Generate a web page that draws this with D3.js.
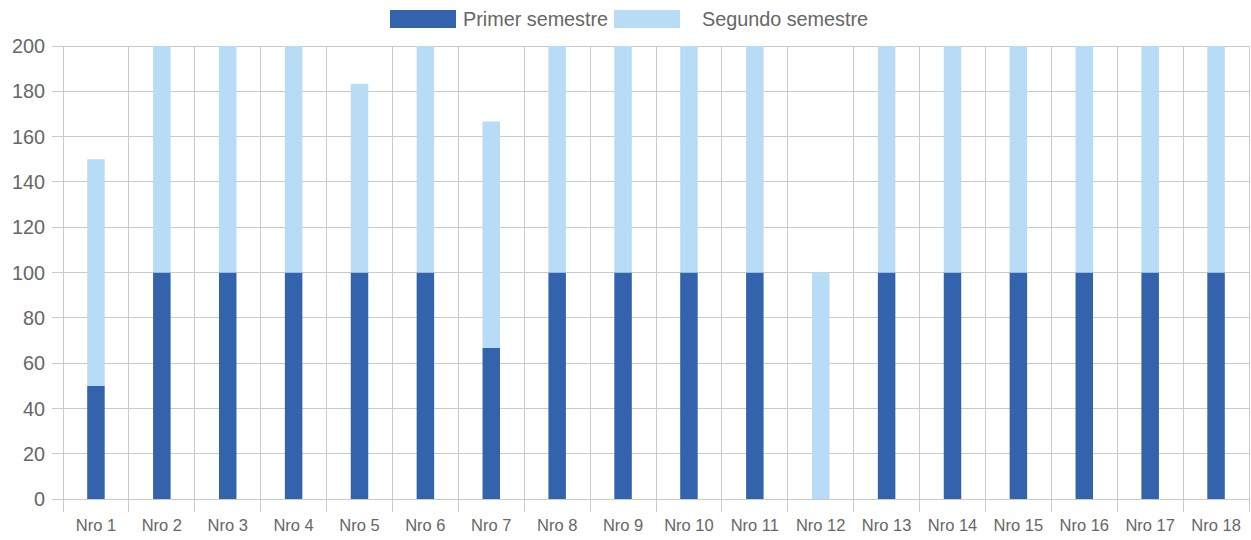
<!DOCTYPE html>
<html><head><meta charset="utf-8">
<script src="https://cdn.jsdelivr.net/npm/d3@7"></script>
<style>body{margin:0;background:#fff;}svg{display:block;font-family:"Liberation Sans",Arial,sans-serif;}</style>
</head><body><svg id="c" width="1251" height="540"></svg>
<script>
const categories = ["Nro 1","Nro 2","Nro 3","Nro 4","Nro 5","Nro 6","Nro 7","Nro 8","Nro 9","Nro 10","Nro 11","Nro 12","Nro 13","Nro 14","Nro 15","Nro 16","Nro 17","Nro 18"];
const primer = [50,100,100,100,100,100,66.67,100,100,100,100,0,100,100,100,100,100,100];
const segundo = [100,100,100,100,83.33,100,100,100,100,100,100,100,100,100,100,100,100,100];
const seriesNames = ["Primer semestre","Segundo semestre"];
const yTicks = [0,20,40,60,80,100,120,140,160,180,200];
const colors = ["#3463ae","#b8dcf5"];

const svg = d3.select("#c");
const m = {l:63, r:1249, t:46, b:499};
const x = d3.scaleBand().domain(categories).range([m.l, m.r]);
const y = d3.scaleLinear().domain([0,200]).range([m.b, m.t]);
const grid = "#cacaca";

// horizontal grid
svg.append("g").selectAll("line").data(yTicks).join("line")
  .attr("x1", m.l-11).attr("x2", m.r).attr("y1", d=>y(d)).attr("y2", d=>y(d))
  .attr("stroke", grid).attr("stroke-width",1).attr("shape-rendering","crispEdges");
// vertical grid at band boundaries
const bounds = categories.map(c=>x(c)).concat([m.r]);
svg.append("g").selectAll("line").data(bounds).join("line")
  .attr("x1", d=>d).attr("x2", d=>d).attr("y1", m.t).attr("y2", m.b+13)
  .attr("stroke", grid).attr("stroke-width",1).attr("shape-rendering","crispEdges");

// y labels
svg.append("g").selectAll("text").data(yTicks).join("text")
  .attr("x", 45).attr("y", d=>y(d)).attr("dy","0.36em").attr("text-anchor","end")
  .attr("fill","#666").attr("font-size",19.8).text(d=>d);
// x labels
svg.append("g").selectAll("text").data(categories).join("text")
  .attr("x", d=>x(d)+x.bandwidth()/2).attr("y", 525).attr("dy","0.36em").attr("text-anchor","middle")
  .attr("fill","#666").attr("font-size",16.5).text(d=>d);

const bw = 17.5;
const stacked = d3.stack().keys([0,1]).value((d,k)=>d.v[k])(categories.map((c,i)=>({c, v:[primer[i], segundo[i]]})));
stacked.forEach((layer, k) => {
  svg.append("g").selectAll("rect").data(layer).join("rect")
    .attr("x", d=>x(d.data.c)+x.bandwidth()/2-bw/2).attr("width", bw)
    .attr("y", d=>y(d[1])).attr("height", d=>y(d[0])-y(d[1]))
    .attr("fill", colors[k]);
});

// legend
const leg = [{x:390, tx:463},{x:614, tx:702}];
leg.forEach((l,i)=>{
  svg.append("rect").attr("x", l.x).attr("y", 10).attr("width", 66).attr("height", 18).attr("fill", colors[i]);
  svg.append("text").attr("x", l.tx).attr("y", 19).attr("dy","0.36em").attr("fill","#666").attr("font-size",19.8).text(seriesNames[i]);
});
</script></body></html>
